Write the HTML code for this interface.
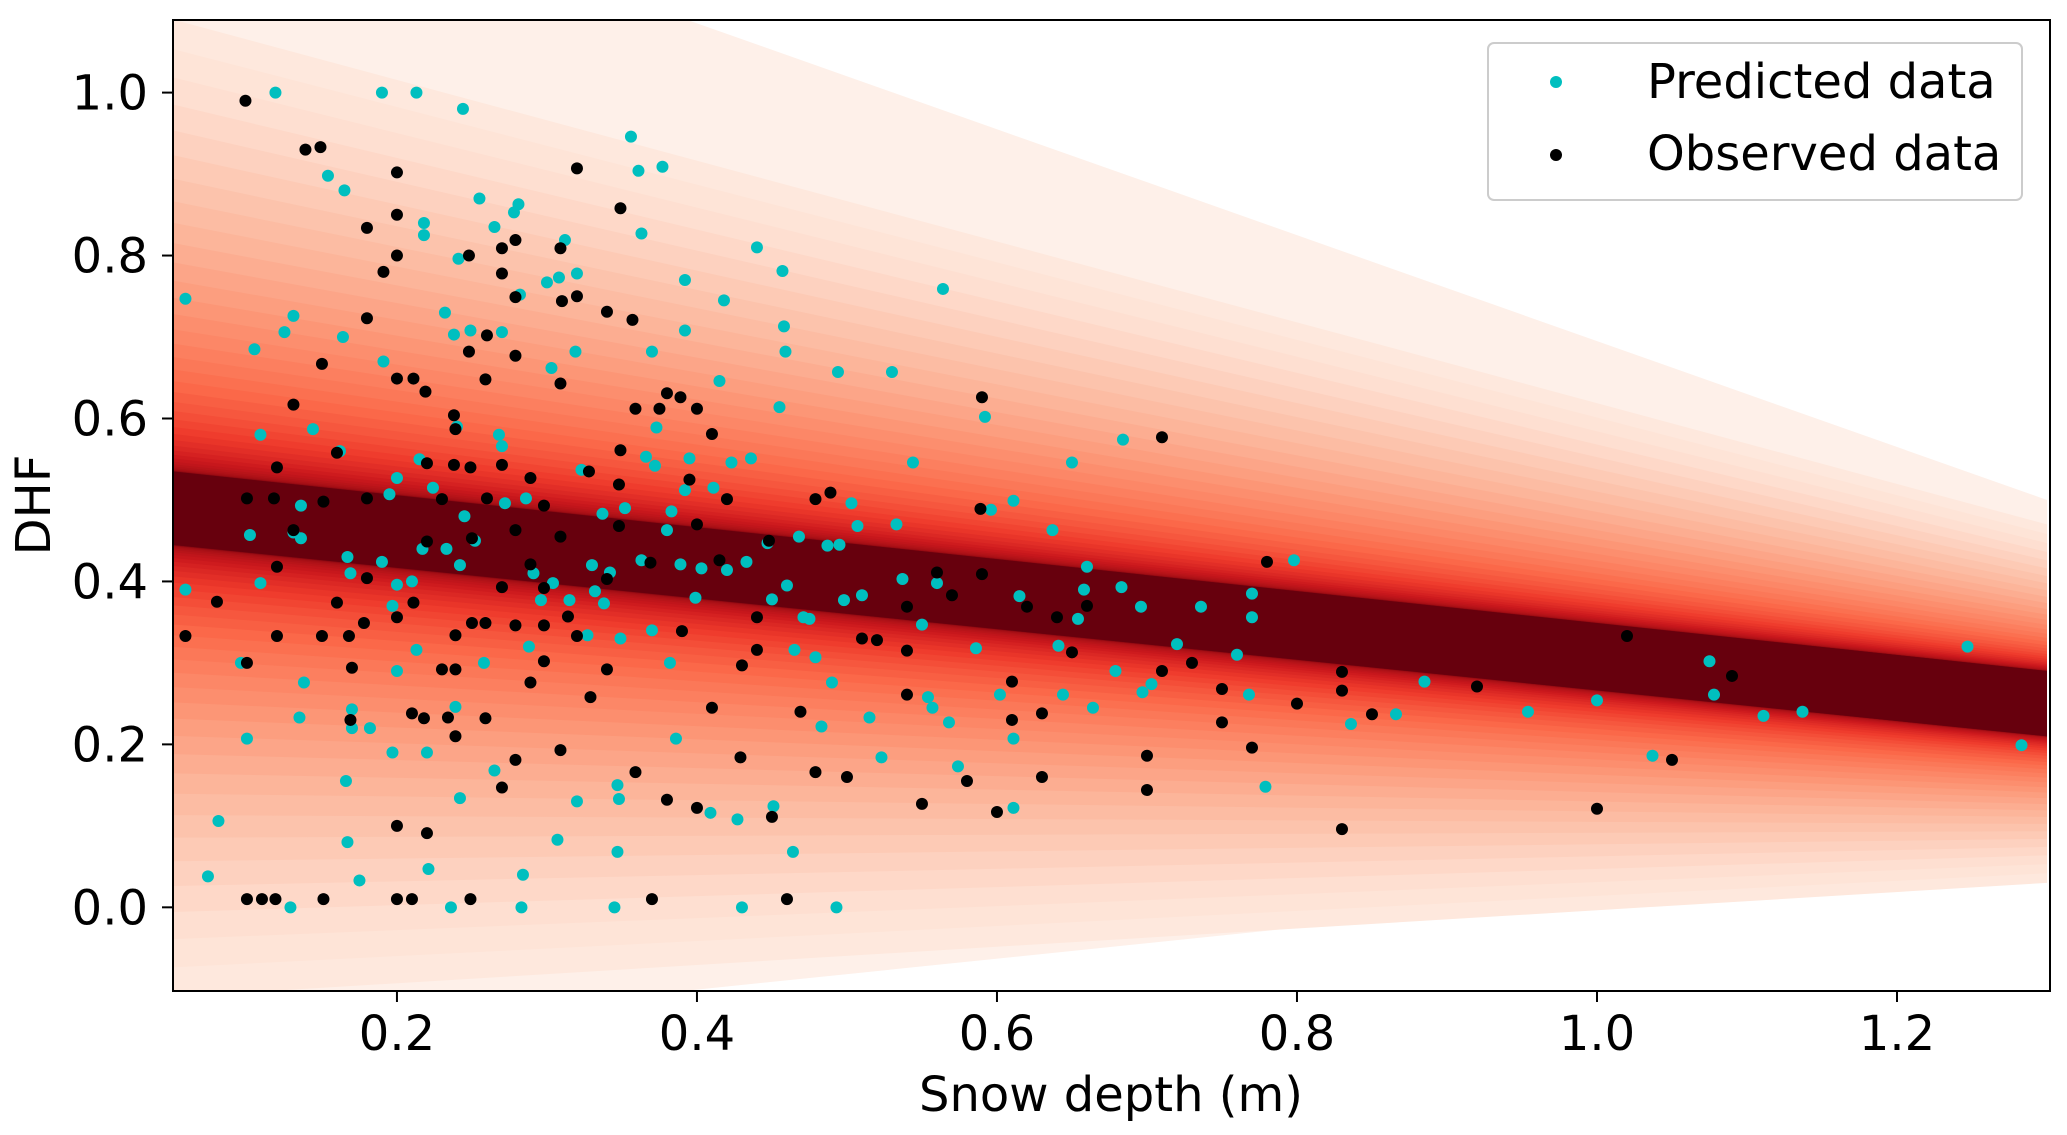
<!DOCTYPE html>
<html><head><meta charset="utf-8"><style>
html,body{margin:0;padding:0;background:#fff;}
svg{display:block;font-family:"DejaVu Sans","Liberation Sans",sans-serif;}
</style></head><body>
<svg id="chart" width="2067" height="1135" viewBox="0 0 2067 1135" xmlns="http://www.w3.org/2000/svg">
<defs><clipPath id="plotclip"><rect x="173" y="20" width="1877" height="971"/></clipPath></defs>
<g id="fan" clip-path="url(#plotclip)"></g>
<g id="pts" clip-path="url(#plotclip)"></g>
<rect x="173" y="20" width="1877" height="971" fill="none" stroke="#000" stroke-width="2"/>
<g id="axes"></g>
<text x="1111" y="1111" font-size="48" text-anchor="middle">Snow depth (m)</text>
<text x="50" y="505" font-size="48" text-anchor="middle" transform="rotate(-90 50 505)">DHF</text>
<g>
<rect x="1488" y="43" width="534" height="157" rx="6" fill="#fff" fill-opacity="0.85" stroke="#ccc" stroke-width="2"/>
<circle cx="1556" cy="82" r="6" fill="#00bfbf"/>
<text x="1647" y="98" font-size="48">Predicted data</text>
<circle cx="1556" cy="155" r="6" fill="#000"/>
<text x="1647" y="170" font-size="48">Observed data</text>
</g>
</svg>
<script>
const xTicks=[0.2,0.4,0.6,0.8,1.0,1.2];
const xTickLabels=["0.2","0.4","0.6","0.8","1.0","1.2"];
const yTicks=[0.0,0.2,0.4,0.6,0.8,1.0];
const yTickLabels=["0.0","0.2","0.4","0.6","0.8","1.0"];
const predX=[0.059,0.059,0.081,0.074,0.10,0.096,0.102,0.105,0.109,0.109,0.119,0.125,0.131,0.129,0.131,0.135,0.136,0.138,0.144,0.136,0.154,0.165,0.164,0.162,0.167,0.169,0.166,0.167,0.17,0.17,0.175,0.182,0.19,0.19,0.191,0.195,0.2,0.197,0.197,0.2,0.2,0.21,0.213,0.215,0.213,0.217,0.218,0.218,0.22,0.221,0.224,0.233,0.236,0.232,0.238,0.239,0.24,0.241,0.242,0.242,0.244,0.245,0.249,0.252,0.255,0.258,0.265,0.265,0.268,0.27,0.27,0.272,0.278,0.281,0.282,0.283,0.284,0.286,0.288,0.291,0.296,0.3,0.303,0.304,0.307,0.308,0.312,0.315,0.319,0.32,0.32,0.323,0.327,0.33,0.332,0.337,0.338,0.342,0.345,0.347,0.347,0.348,0.349,0.352,0.356,0.361,0.363,0.363,0.366,0.37,0.37,0.372,0.373,0.377,0.38,0.382,0.383,0.386,0.389,0.392,0.392,0.392,0.395,0.399,0.403,0.409,0.411,0.415,0.418,0.42,0.423,0.427,0.43,0.433,0.436,0.44,0.447,0.45,0.451,0.455,0.457,0.458,0.459,0.46,0.464,0.465,0.468,0.471,0.475,0.479,0.483,0.487,0.49,0.493,0.494,0.495,0.498,0.503,0.507,0.51,0.515,0.523,0.53,0.533,0.537,0.544,0.55,0.554,0.557,0.56,0.564,0.568,0.574,0.586,0.592,0.596,0.602,0.611,0.611,0.611,0.615,0.637,0.641,0.644,0.65,0.654,0.658,0.66,0.664,0.679,0.683,0.684,0.696,0.697,0.703,0.72,0.736,0.76,0.768,0.77,0.77,0.779,0.798,0.836,0.866,0.885,0.954,1.0,1.037,1.075,1.078,1.111,1.137,1.247,1.283];
const predY=[0.747,0.39,0.106,0.038,0.207,0.30,0.457,0.685,0.398,0.58,1.0,0.706,0.726,0.0,0.46,0.233,0.493,0.276,0.587,0.453,0.898,0.88,0.70,0.56,0.43,0.41,0.155,0.08,0.243,0.22,0.033,0.22,1.0,0.424,0.67,0.507,0.527,0.37,0.19,0.396,0.29,0.40,1.0,0.55,0.316,0.44,0.84,0.825,0.19,0.047,0.515,0.44,0.0,0.73,0.703,0.246,0.59,0.796,0.134,0.42,0.98,0.48,0.708,0.45,0.87,0.30,0.835,0.168,0.58,0.566,0.706,0.496,0.853,0.863,0.752,0.0,0.04,0.502,0.32,0.41,0.377,0.767,0.662,0.398,0.083,0.773,0.819,0.377,0.682,0.778,0.13,0.537,0.334,0.42,0.388,0.483,0.373,0.411,0.0,0.068,0.15,0.133,0.33,0.49,0.946,0.904,0.827,0.426,0.553,0.682,0.34,0.542,0.589,0.909,0.463,0.30,0.486,0.207,0.421,0.708,0.77,0.512,0.551,0.38,0.416,0.116,0.515,0.646,0.745,0.414,0.546,0.108,0.0,0.424,0.551,0.81,0.447,0.378,0.124,0.614,0.781,0.713,0.682,0.395,0.068,0.316,0.455,0.356,0.354,0.307,0.222,0.444,0.276,0.0,0.657,0.445,0.377,0.496,0.468,0.383,0.233,0.184,0.657,0.47,0.403,0.546,0.347,0.258,0.245,0.398,0.759,0.227,0.173,0.318,0.602,0.488,0.261,0.499,0.207,0.122,0.382,0.463,0.321,0.261,0.546,0.354,0.39,0.418,0.245,0.29,0.393,0.574,0.369,0.264,0.274,0.323,0.369,0.31,0.261,0.385,0.356,0.148,0.426,0.225,0.237,0.277,0.24,0.254,0.186,0.302,0.261,0.235,0.24,0.32,0.199];
const obsX=[0.059,0.08,0.099,0.1,0.1,0.1,0.11,0.119,0.118,0.12,0.12,0.12,0.131,0.131,0.139,0.149,0.15,0.151,0.15,0.151,0.16,0.16,0.168,0.169,0.17,0.178,0.18,0.18,0.18,0.18,0.191,0.2,0.2,0.2,0.2,0.2,0.2,0.2,0.21,0.21,0.211,0.211,0.219,0.22,0.218,0.22,0.22,0.23,0.23,0.234,0.238,0.238,0.239,0.239,0.239,0.239,0.248,0.248,0.249,0.249,0.25,0.25,0.259,0.259,0.259,0.26,0.26,0.27,0.27,0.27,0.27,0.27,0.279,0.279,0.279,0.279,0.279,0.279,0.289,0.289,0.289,0.298,0.298,0.298,0.298,0.309,0.309,0.309,0.309,0.31,0.314,0.32,0.32,0.32,0.328,0.329,0.34,0.34,0.34,0.349,0.349,0.348,0.348,0.357,0.359,0.359,0.37,0.369,0.375,0.38,0.38,0.389,0.39,0.395,0.4,0.4,0.4,0.41,0.41,0.415,0.42,0.429,0.43,0.44,0.44,0.448,0.45,0.46,0.469,0.479,0.479,0.489,0.5,0.51,0.52,0.54,0.54,0.54,0.55,0.56,0.57,0.58,0.589,0.59,0.59,0.6,0.61,0.61,0.62,0.63,0.63,0.64,0.65,0.66,0.70,0.70,0.71,0.71,0.73,0.75,0.75,0.77,0.78,0.80,0.83,0.83,0.83,0.85,0.92,1.0,1.02,1.05,1.09];
const obsY=[0.333,0.375,0.99,0.502,0.30,0.01,0.01,0.01,0.502,0.418,0.333,0.54,0.617,0.463,0.93,0.933,0.667,0.498,0.333,0.01,0.374,0.558,0.333,0.23,0.294,0.349,0.834,0.723,0.502,0.404,0.78,0.902,0.85,0.8,0.649,0.356,0.1,0.01,0.01,0.238,0.374,0.649,0.633,0.091,0.232,0.545,0.449,0.292,0.501,0.233,0.543,0.604,0.587,0.334,0.292,0.21,0.682,0.8,0.54,0.01,0.349,0.453,0.648,0.232,0.349,0.502,0.702,0.147,0.809,0.778,0.393,0.543,0.346,0.181,0.819,0.749,0.677,0.463,0.276,0.421,0.527,0.346,0.493,0.392,0.302,0.643,0.193,0.809,0.455,0.744,0.357,0.75,0.907,0.333,0.535,0.258,0.731,0.403,0.292,0.858,0.561,0.519,0.468,0.721,0.612,0.166,0.01,0.423,0.612,0.631,0.132,0.626,0.339,0.525,0.612,0.47,0.122,0.581,0.245,0.426,0.501,0.184,0.297,0.316,0.356,0.45,0.111,0.01,0.24,0.166,0.501,0.509,0.16,0.33,0.328,0.261,0.369,0.315,0.127,0.411,0.383,0.155,0.489,0.626,0.409,0.117,0.23,0.277,0.369,0.16,0.238,0.356,0.313,0.37,0.186,0.144,0.577,0.29,0.30,0.227,0.268,0.196,0.424,0.25,0.096,0.266,0.289,0.237,0.271,0.121,0.333,0.181,0.284];
// fan model (regression band): centre line and half-widths at x=0.05 and x=1.3
const fanCenter=[0.49,0.25];
const fanOuter=[0.60,0.22];
const fanCore=[0.045,0.04];

const NS="http://www.w3.org/2000/svg";
const X0=173,X1=2050,Y0=20,Y1=991;
const xMin=0.0507,xMax=1.302,yMin=-0.1027,yMax=1.0891;
const sx=v=>X0+(v-xMin)/(xMax-xMin)*(X1-X0);
const sy=v=>Y1-(v-yMin)/(yMax-yMin)*(Y1-Y0);

const stops=[[255,245,240],[254,224,210],[252,187,161],[252,146,114],[251,106,74],[239,59,44],[203,24,29],[165,15,21],[103,0,13]];
function reds(t){t=Math.max(0,Math.min(1,t));const f=t*8,i=Math.min(7,Math.floor(f)),u=f-i;const a=stops[i],b=stops[i+1];return 'rgb('+a.map((c,k)=>Math.round(c+(b[k]-c)*u)).join(',')+')';}

const fan=document.getElementById('fan');
(function(){
  const p=document.createElementNS(NS,'polygon');
  
  
  p.setAttribute('points',[[0.05,1.2],[0.3,1.15],[1.3,0.5],[1.3,0.07],[0.3,-0.12],[0.05,-0.12]].map(q=>sx(q[0])+','+sy(q[1])).join(' '));
  p.setAttribute('fill','rgb(254,240,233)');
  fan.appendChild(p);
})();
const N=40;
for(let k=0;k<N;k++){
  const t=k/(N-1);
  const w=Math.pow(1-t,2.6);
  const hl=fanCore[0]+(fanOuter[0]-fanCore[0])*w;
  const hr=fanCore[1]+(fanOuter[1]-fanCore[1])*w;
  const pts=[[0.05,fanCenter[0]+hl],[1.3,fanCenter[1]+hr],[1.3,fanCenter[1]-hr],[0.05,fanCenter[0]-hl]];
  const p=document.createElementNS(NS,'polygon');
  
  
  p.setAttribute('points',pts.map(q=>sx(q[0])+','+sy(q[1])).join(' '));
  p.setAttribute('fill',reds(0.08+0.92*t));
  fan.appendChild(p);
}

const pts=document.getElementById('pts');
for(let i=0;i<predX.length;i++){
  const c=document.createElementNS(NS,'circle');
  
  
  c.setAttribute('cx',sx(predX[i]));c.setAttribute('cy',sy(predY[i]));c.setAttribute('r',6);c.setAttribute('fill','#00bfbf');
  pts.appendChild(c);
}
for(let i=0;i<obsX.length;i++){
  const c=document.createElementNS(NS,'circle');
  
  
  c.setAttribute('cx',sx(obsX[i]));c.setAttribute('cy',sy(obsY[i]));c.setAttribute('r',6);c.setAttribute('fill','#000');
  pts.appendChild(c);
}

const axes=document.getElementById('axes');
xTicks.forEach((v,i)=>{
  const l=document.createElementNS(NS,'line');
  
  
  l.setAttribute('x1',sx(v));l.setAttribute('x2',sx(v));l.setAttribute('y1',Y1);l.setAttribute('y2',Y1+11);l.setAttribute('stroke','#000');l.setAttribute('stroke-width',2);
  axes.appendChild(l);
  const t=document.createElementNS(NS,'text');
  
  
  t.setAttribute('x',sx(v));t.setAttribute('y',1050);t.setAttribute('font-size',48);t.setAttribute('text-anchor','middle');
  t.textContent=xTickLabels[i];axes.appendChild(t);
});
yTicks.forEach((v,i)=>{
  const l=document.createElementNS(NS,'line');
  
  
  l.setAttribute('x1',X0-11);l.setAttribute('x2',X0);l.setAttribute('y1',sy(v));l.setAttribute('y2',sy(v));l.setAttribute('stroke','#000');l.setAttribute('stroke-width',2);
  axes.appendChild(l);
  const t=document.createElementNS(NS,'text');
  
  
  t.setAttribute('x',148);t.setAttribute('y',sy(v)+17);t.setAttribute('font-size',48);t.setAttribute('text-anchor','end');
  t.textContent=yTickLabels[i];axes.appendChild(t);
});
</script>
</body></html>
